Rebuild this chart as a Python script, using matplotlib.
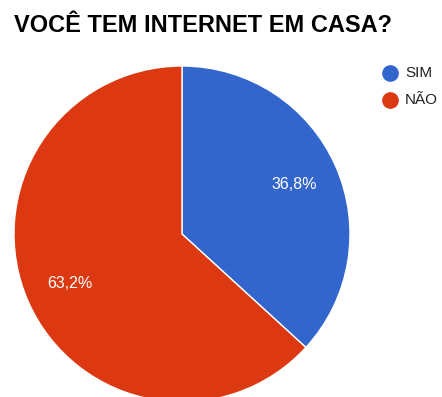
import matplotlib.pyplot as plt

labels = ['SIM', 'NÃO']
values = [36.8, 63.2]
colors = ['#3366cc', '#dc3912']

W, H = 442, 397
fig = plt.figure(figsize=(W / 100, H / 100), dpi=100)

# pie box in pixels: left 14, top 66, size 336
ax = fig.add_axes([14 / W, (H - 402) / H, 336 / W, 336 / H])
wedges, texts, autotexts = ax.pie(
    values, colors=colors, startangle=90, counterclock=False,
    autopct=lambda p: f'{p:.1f}%'.replace('.', ','), pctdistance=0.73,
    wedgeprops=dict(edgecolor='white', linewidth=1), radius=1, frame=False)
for t in autotexts:
    t.set_color('white')
    t.set_fontsize(11.5)
    t.set_family('Liberation Sans')
ax.set_xlim(-1, 1)
ax.set_ylim(-1, 1)
ax.set_aspect('auto')
ax.axis('off')

fig.text(14 / W, 1 - 26 / H, 'VOCÊ TEM INTERNET EM CASA?', fontsize=17,
         fontweight='bold', family='Liberation Sans', va='center', ha='left',
         color='#000000')

# legend
for i, (lab, c) in enumerate(zip(labels, colors)):
    y = 1 - (73 + i * 27) / H
    fig.text(405 / W, y, lab, fontsize=11, family='Liberation Sans',
             va='center', ha='left', color='#222222')
    fig.add_artist(plt.Line2D([390 / W], [y], marker='o', markersize=11,
                              color=c, transform=fig.transFigure))

fig.savefig('out.png', dpi=100)
